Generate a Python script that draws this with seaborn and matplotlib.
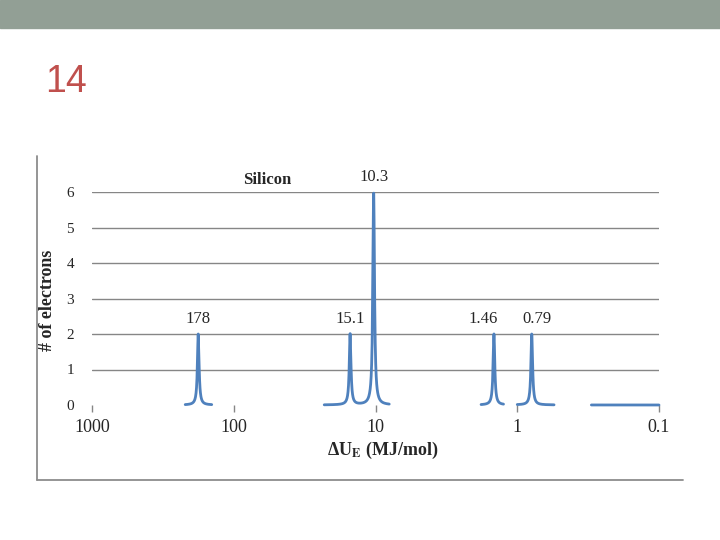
import numpy as np
import pandas as pd
import matplotlib.pyplot as plt
from matplotlib.lines import Line2D
from matplotlib.patches import Rectangle
import seaborn as sns

# Silicon: successive ionisation energy groups
peak_energy = [178, 15.1, 10.3, 1.46, 0.79]       # MJ/mol
peak_electrons = [2, 2, 6, 2, 2]
peak_labels = ['178', '15.1', '10.3', '1.46', '0.79']
# ranges (MJ/mol) where the curve is drawn in the original
seg_start = [220, 23, 1.8, 1.0, 0.30]
seg_end = [143, 8, 1.25, 0.55, 0.1]

x_ticks = [1000, 100, 10, 1, 0.1]
x_ticklabels = ['1000', '100', '10', '1', '0.1']
y_ticks = [0, 1, 2, 3, 4, 5, 6]

sns.set_style('white')
plt.rcParams['font.family'] = ['Liberation Serif', 'DejaVu Serif']
plt.rcParams['mathtext.fontset'] = 'stix'

# build curve: lorentzian shaped peaks in log space
width = 0.007
rows = []
for i in range(len(seg_start)):
    lx = np.linspace(np.log10(seg_start[i]), np.log10(seg_end[i]), 400)
    y = np.zeros_like(lx)
    for e, h in zip(peak_energy, peak_electrons):
        d = lx - np.log10(e)
        y += h * width**2 / (width**2 + d**2)
    for a, b in zip(10**lx, y):
        rows.append({'energy': a, 'electrons': b, 'seg': i})
df = pd.DataFrame(rows)

fig = plt.figure(figsize=(7.2, 5.4), dpi=100)

# slide header bar and page number
fig.patches.append(Rectangle((0, 1 - 28/540), 1, 28/540, transform=fig.transFigure,
                             color='#929f95', zorder=0))
fig.text(45/720, 1 - 82/540, '14', color='#c0504d', fontsize=27,
         family=['Liberation Sans Narrow', 'Liberation Sans', 'DejaVu Sans'],
         ha='left', va='center')

# chart frame (left + bottom)
fig.lines.append(Line2D([37/720, 37/720], [1 - 156/540, 1 - 480/540],
                        transform=fig.transFigure, color='#8c8c8c', lw=1.3))
fig.lines.append(Line2D([37/720, 683/720], [1 - 480/540, 1 - 480/540],
                        transform=fig.transFigure, color='#8c8c8c', lw=1.3))

ax = fig.add_axes([92/720, 1 - 405/540, 567/720, 213/540])
sns.lineplot(data=df, x='energy', y='electrons', units='seg', estimator=None,
             color='#4f81bd', lw=2, ax=ax, clip_on=False, zorder=3)

ax.set_xscale('log')
ax.set_xlim(1000, 0.1)
ax.set_ylim(0, 6)
ax.set_xticks(x_ticks)
ax.set_xticklabels(x_ticklabels)
ax.minorticks_off()
ax.set_yticks(y_ticks)
ax.grid(axis='y', color='#868686', lw=1)
ax.get_ygridlines()[0].set_visible(False)
ax.tick_params(axis='x', direction='out', length=5, color='#868686', width=1,
               pad=5, labelsize=13, bottom=True)
ax.tick_params(axis='y', length=0, pad=13, labelsize=11)
for s in ax.spines.values():
    s.set_visible(False)
ax.set_xlabel('')
ax.set_ylabel('')

label_dx = [0, 0, 0, -8, 4]
for e, h, t, dx in zip(peak_energy, peak_electrons, peak_labels, label_dx):
    ax.annotate(t, (e, h), xytext=(dx, 5), textcoords='offset points',
                ha='center', va='bottom', fontsize=12)

fig.text(267/720, 1 - 180/540, 'Silicon', fontsize=12, fontweight='bold',
         ha='center', va='center')
fig.text(47/720, 1 - 300/540, '# of electrons', fontsize=13, fontweight='bold',
         rotation=90, ha='center', va='center')
fig.text(383/720, 1 - 450/540, r'ΔU$_{\mathbf{E}}$ (MJ/mol)', fontsize=13,
         fontweight='bold', ha='center', va='center')

fig.savefig('out.png', dpi=100)
